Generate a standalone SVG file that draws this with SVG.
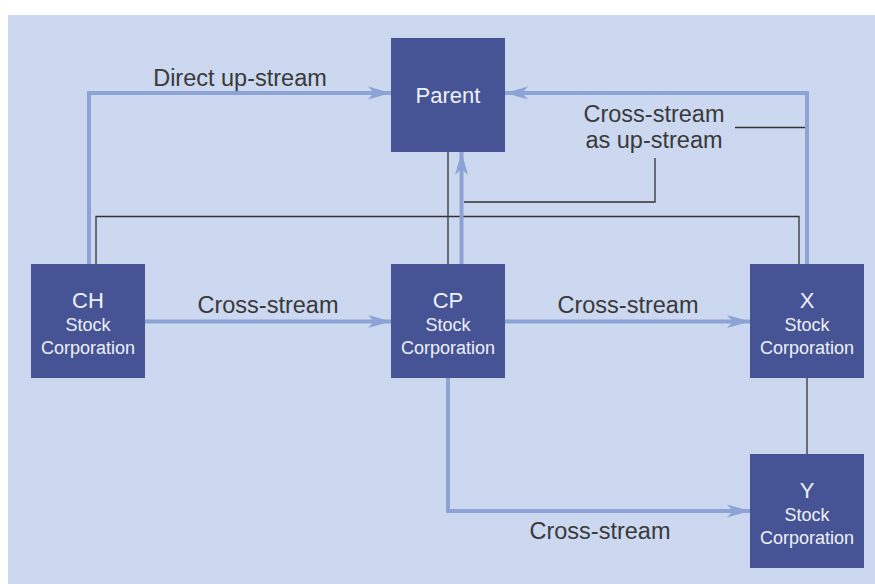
<svg xmlns="http://www.w3.org/2000/svg" width="875" height="584" viewBox="0 0 875 584">
  <defs>
    <marker id="ah" markerUnits="userSpaceOnUse" markerWidth="26" markerHeight="16" viewBox="-24 -8 26 16" refX="0" refY="0" orient="auto">
      <path d="M0,0 L-23,-6.5 L-17,0 L-23,6.5 Z" fill="#8EA3D5"/>
    </marker>
  </defs>
  <style>
    .box { fill: #465496; }
    .flow { fill: none; stroke: #8EA3D5; stroke-width: 4; marker-end: url(#ah); }
    .own { fill: none; stroke: #333; stroke-width: 1.3; }
    .lbl { font-family: "Liberation Sans", Arial, sans-serif; font-size: 23.5px; fill: #3a3a3a; text-anchor: middle; }
    .t1 { font-family: "Liberation Sans", Arial, sans-serif; font-size: 22px; fill: #EEF1F8; text-anchor: middle; }
    .t2 { font-family: "Liberation Sans", Arial, sans-serif; font-size: 18px; fill: #EEF1F8; text-anchor: middle; }
  </style>
  <rect x="8" y="15" width="867" height="569" fill="#CBD8EF"/>

  <g id="connectors">
    <path class="own" d="M96,264 V216.5 H799 V264"/>
    <path class="own" d="M448,152 V264"/>
    <path class="own" d="M735,127.5 H807"/>
    <path class="own" d="M655,158 V202 H464"/>
    <path class="own" d="M807,378 V454"/>
    <path class="flow" d="M89,264 V93 H391"/>
    <path class="flow" d="M807,264 V93 H505"/>
    <path class="flow" d="M461.5,264 V152"/>
    <path class="flow" d="M145,321.5 H391"/>
    <path class="flow" d="M505,321.5 H750"/>
    <path class="flow" d="M448,378 V511 H750"/>
    <text class="lbl" x="240" y="86">Direct up-stream</text>
    <text class="lbl" x="268" y="313">Cross-stream</text>
    <text class="lbl" x="628" y="313">Cross-stream</text>
    <text class="lbl" x="654" y="122">Cross-stream</text>
    <text class="lbl" x="654" y="148">as up-stream</text>
    <text class="lbl" x="600" y="539">Cross-stream</text>
  </g>

  <g id="parent">
    <rect class="box" x="391" y="38" width="114" height="114"/>
    <text class="t1" x="448" y="103">Parent</text>
  </g>
  <g id="ch">
    <rect class="box" x="31" y="264" width="114" height="114"/>
    <text class="t1" x="88" y="308">CH</text>
    <text class="t2" x="88" y="331">Stock</text>
    <text class="t2" x="88" y="353.5">Corporation</text>
  </g>
  <g id="cp">
    <rect class="box" x="391" y="264" width="114" height="114"/>
    <text class="t1" x="448" y="308">CP</text>
    <text class="t2" x="448" y="331">Stock</text>
    <text class="t2" x="448" y="353.5">Corporation</text>
  </g>
  <g id="x">
    <rect class="box" x="750" y="264" width="114" height="114"/>
    <text class="t1" x="807" y="308">X</text>
    <text class="t2" x="807" y="331">Stock</text>
    <text class="t2" x="807" y="353.5">Corporation</text>
  </g>
  <g id="y">
    <rect class="box" x="750" y="454" width="114" height="114"/>
    <text class="t1" x="807" y="498">Y</text>
    <text class="t2" x="807" y="521">Stock</text>
    <text class="t2" x="807" y="543.5">Corporation</text>
  </g>
</svg>
